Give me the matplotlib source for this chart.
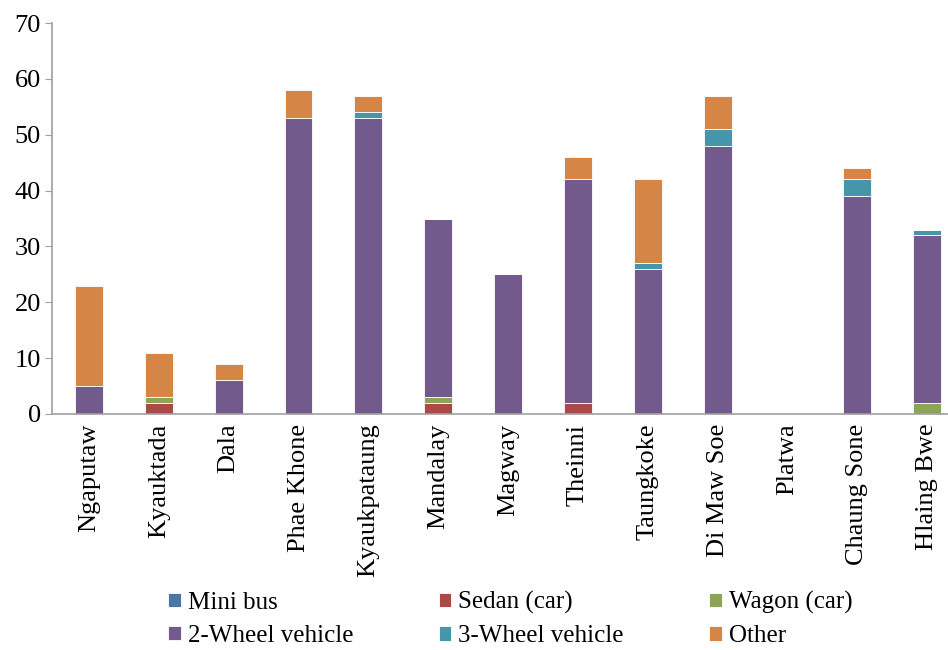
import numpy as np
import matplotlib
matplotlib.use("Agg")
import matplotlib.pyplot as plt

plt.rcParams['font.family'] = ['Liberation Serif', 'DejaVu Serif']

places = ['Ngaputaw', 'Kyauktada', 'Dala', 'Phae Khone', 'Kyaukpataung',
          'Mandalay', 'Magway', 'Theinni', 'Taungkoke', 'Di Maw Soe',
          'Platwa', 'Chaung Sone', 'Hlaing Bwe']

mini_bus = [0, 0, 0, 0, 0, 0, 0, 0, 0, 0, 0, 0, 0]
sedan = [0, 2, 0, 0, 0, 2, 0, 2, 0, 0, 0, 0, 0]
wagon = [0, 1, 0, 0, 0, 1, 0, 0, 0, 0, 0, 0, 2]
two_wheel = [5, 0, 6, 53, 53, 32, 25, 40, 26, 48, 0, 39, 30]
three_wheel = [0, 0, 0, 0, 1, 0, 0, 0, 1, 3, 0, 3, 1]
other = [18, 8, 3, 5, 3, 0, 0, 4, 15, 6, 0, 2, 0]

series = [
    ('Mini bus', mini_bus, '#4A76A8'),
    ('Sedan (car)', sedan, '#A84B48'),
    ('Wagon (car)', wagon, '#8DA356'),
    ('2-Wheel vehicle', two_wheel, '#725A8C'),
    ('3-Wheel vehicle', three_wheel, '#4696AB'),
    ('Other', other, '#D58546'),
]

fig = plt.figure(figsize=(9.48, 6.5), dpi=100)
ax = fig.add_axes([52 / 948, 1 - 414 / 650, (948 - 52) / 948, 391 / 650])

x = np.arange(len(places))
bottom = np.zeros(len(places))
handles = []
for name, vals, col in series:
    vals = np.array(vals, dtype=float)
    b = ax.bar(x, vals, width=0.4, bottom=bottom, color=col,
               edgecolor='white', linewidth=0.6, label=name)
    handles.append(b)
    bottom += vals

ax.set_ylim(0, 70)
ax.set_yticks(range(0, 71, 10))
ax.set_xlim(-0.53, 12.3)
ax.set_xticks(x)
ax.set_xticklabels(places, rotation=90, fontsize=19)
ax.tick_params(axis='y', labelsize=19, direction='out', length=5,
               color='#A0A0A0', pad=3)
ax.tick_params(axis='x', length=0, pad=7)

for s in ['top', 'right']:
    ax.spines[s].set_visible(False)
for s in ['left', 'bottom']:
    ax.spines[s].set_color('#A0A0A0')
    ax.spines[s].set_linewidth(1.2)

# matplotlib fills legend columns first, reorder so rows read left to right
order = [0, 3, 1, 4, 2, 5]
fig.legend(handles=[handles[i] for i in order], loc='upper left',
           bbox_to_anchor=(168 / 948, 1 - 591 / 650),
           ncol=3, frameon=False, fontsize=18, handlelength=0.5,
           handleheight=0.5, handletextpad=0.3, columnspacing=3.4,
           labelspacing=0.45, borderpad=0, borderaxespad=0)

fig.savefig('out.png', dpi=100)
